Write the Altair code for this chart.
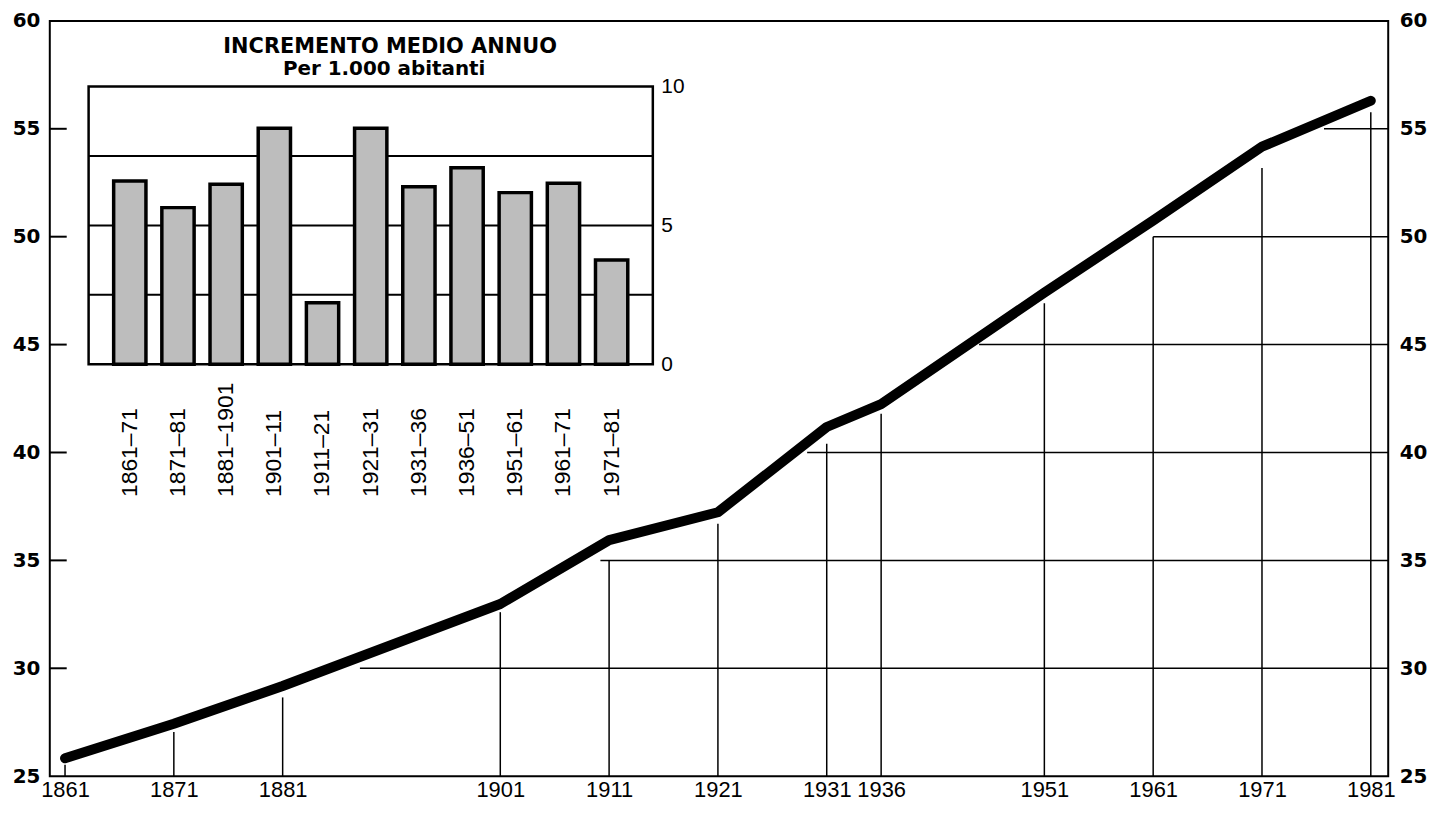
import altair as alt
import pandas as pd

# ---------------- data ----------------
years = [1861, 1871, 1881, 1901, 1911, 1921, 1931, 1936, 1951, 1961, 1971, 1981]
population = [25.83, 27.43, 29.18, 32.98, 35.94, 37.23, 41.18, 42.24, 47.41, 50.75, 54.17, 56.30]
drop_tops = [25.53, 27.05, 28.65, 32.60, 35.00, 36.70, 40.40, 41.80, 46.92, 50.00, 53.18, 55.77]
grid_levels = [30, 35, 40, 45, 50, 55]
grid_starts = [1888.1, 1910.2, 1929.2, 1945.0, 1961.0, 1976.7]
y_ticks = [25, 30, 35, 40, 45, 50, 55, 60]
inner_ticks = [30, 35, 40, 45, 50, 55]

periods = ["1861–71", "1871–81", "1881–1901", "1901–11", "1911–21", "1921–31",
           "1931–36", "1936–51", "1951–61", "1961–71", "1971–81"]
increments = [6.60, 5.64, 6.48, 8.50, 2.21, 8.50, 6.39, 7.08, 6.18, 6.52, 3.75]
inset_grid = [2.5, 5, 7.5]
inset_ticks = [0, 5, 10]
inset_title = ["INCREMENTO MEDIO ANNUO", "Per 1.000 abitanti"]

# ---------------- layout ----------------
W, H = 1345, 759
X_MIN, X_MAX = 1859.6, 1982.6
INS_L, INS_R, INS_T, INS_B = 39, 606, 66, 345

line_df = pd.DataFrame({"year": years, "pop": population})
drop_df = pd.DataFrame({"year": years, "top": drop_tops})
grid_df = pd.DataFrame({"level": grid_levels, "start": grid_starts})
tick_df = pd.DataFrame({"level": inner_ticks})
bar_df = pd.DataFrame({"period": periods, "inc": increments})
igrid_df = pd.DataFrame({"v": inset_grid})
frame_df = pd.DataFrame({"lo": [min(inset_ticks)], "hi": [max(inset_ticks)]})

xs = alt.Scale(domain=[X_MIN, X_MAX], nice=False, zero=False)
ys = alt.Scale(domain=[25, 60], nice=False, zero=False)
iys = alt.Scale(domain=[0, 10], range=[INS_B, INS_T], nice=False, zero=True)
ixs = alt.Scale(domain=periods, range=[INS_L, INS_R], paddingInner=0.33, paddingOuter=0.52)

MAIN_LABEL_FONT = "DejaVu Sans"
X_LABEL_FONT = "Liberation Sans Narrow, Liberation Sans, Arial, sans-serif"
INSET_FONT = "Liberation Sans, Arial, sans-serif"

# vertical drop lines from the base up to the curve
drops = alt.Chart(drop_df).mark_rule(color="black", strokeWidth=1.5).encode(
    x=alt.X("year:Q", scale=xs, axis=None),
    y=alt.Y("top:Q", scale=ys, axis=None),
    y2=alt.datum(25),
)

# horizontal stair grid from the curve to the right edge
hgrid = alt.Chart(grid_df).mark_rule(color="black", strokeWidth=1.5).encode(
    x=alt.X("start:Q", scale=xs, axis=None),
    x2=alt.datum(X_MAX),
    y=alt.Y("level:Q", scale=ys, axis=None),
)

# inward ticks on the left axis
inticks = alt.Chart(tick_df).mark_rule(color="black", strokeWidth=2).encode(
    x=alt.value(0),
    x2=alt.value(17),
    y=alt.Y("level:Q", scale=ys, axis=None),
)

line = alt.Chart(line_df).mark_line(
    color="black", strokeWidth=10, strokeCap="round", strokeJoin="round"
).encode(
    x=alt.X("year:Q", scale=xs, axis=alt.Axis(
        orient="bottom", values=years, format="d", title=None, ticks=False, domain=False,
        grid=False, labelFont=X_LABEL_FONT, labelFontSize=22, labelPadding=3,
        labelColor="black", labelOverlap=False, labelFlush=False)),
    y=alt.Y("pop:Q", scale=ys, axis=alt.Axis(
        orient="left", values=y_ticks, title=None, ticks=False, domain=False, grid=False,
        labelFont=MAIN_LABEL_FONT, labelFontWeight="bold", labelFontSize=20,
        labelPadding=10, labelColor="black", labelFlush=False, labelOverlap=False)),
)

right_axis = alt.Chart(line_df).mark_line(opacity=0).encode(
    x=alt.X("year:Q", scale=xs, axis=None),
    y=alt.Y("pop:Q", scale=ys, axis=alt.Axis(
        orient="right", values=y_ticks, title=None, ticks=False, domain=False, grid=False,
        labelFont=MAIN_LABEL_FONT, labelFontWeight="bold", labelFontSize=20,
        labelPadding=11, labelColor="black", labelFlush=False, labelOverlap=False)),
)

# ---------------- inset ----------------
frame = alt.Chart(frame_df).mark_rect(fill="white", stroke="black", strokeWidth=2.5).encode(
    x=alt.value(INS_L),
    x2=alt.value(INS_R),
    y=alt.Y("hi:Q", scale=iys, axis=None),
    y2="lo:Q",
)

igrid = alt.Chart(igrid_df).mark_rule(color="black", strokeWidth=2).encode(
    x=alt.value(INS_L),
    x2=alt.value(INS_R),
    y=alt.Y("v:Q", scale=iys, axis=None),
)

bars = alt.Chart(bar_df).mark_bar(
    fill="#bdbdbd", stroke="black", strokeWidth=3.5
).encode(
    x=alt.X("period:N", scale=ixs, sort=periods, axis=alt.Axis(
        orient="bottom", offset=INS_B - H, title=None, ticks=False, domain=False, grid=False,
        labelAngle=270, labelAlign="left", labelBaseline="middle", labelPadding=133,
        labelFont=INSET_FONT, labelFontSize=23, labelColor="black", labelOverlap=False)),
    y=alt.Y("inc:Q", scale=iys, axis=alt.Axis(
        orient="right", offset=INS_R - W, values=inset_ticks, title=None, ticks=False,
        domain=False, grid=False, labelFont=INSET_FONT, labelFontSize=21,
        labelPadding=8, labelColor="black", labelFlush=False, labelOverlap=False)),
)

title1 = alt.Chart(pd.DataFrame({"t": [inset_title[0]]})).mark_text(
    font="DejaVu Sans", fontWeight="bold", fontSize=21, color="black",
    align="center", baseline="middle"
).encode(text="t:N", x=alt.value(342), y=alt.value(26))

title2 = alt.Chart(pd.DataFrame({"t": [inset_title[1]]})).mark_text(
    font="DejaVu Sans", fontWeight="bold", fontSize=20, color="black",
    align="center", baseline="middle"
).encode(text="t:N", x=alt.value(336), y=alt.value(48))

chart = alt.layer(
    drops, hgrid, inticks, line, right_axis, frame, igrid, bars, title1, title2
).resolve_scale(
    x="independent", y="independent"
).properties(
    width=W, height=H,
    autosize=alt.AutoSizeParams(type="none"),
    padding={"left": 42, "top": 11, "right": 43, "bottom": 27},
    background="white",
).configure_view(
    stroke="black", strokeWidth=2
)

chart.save("out.html", embed_options={"renderer": "svg", "actions": False})
